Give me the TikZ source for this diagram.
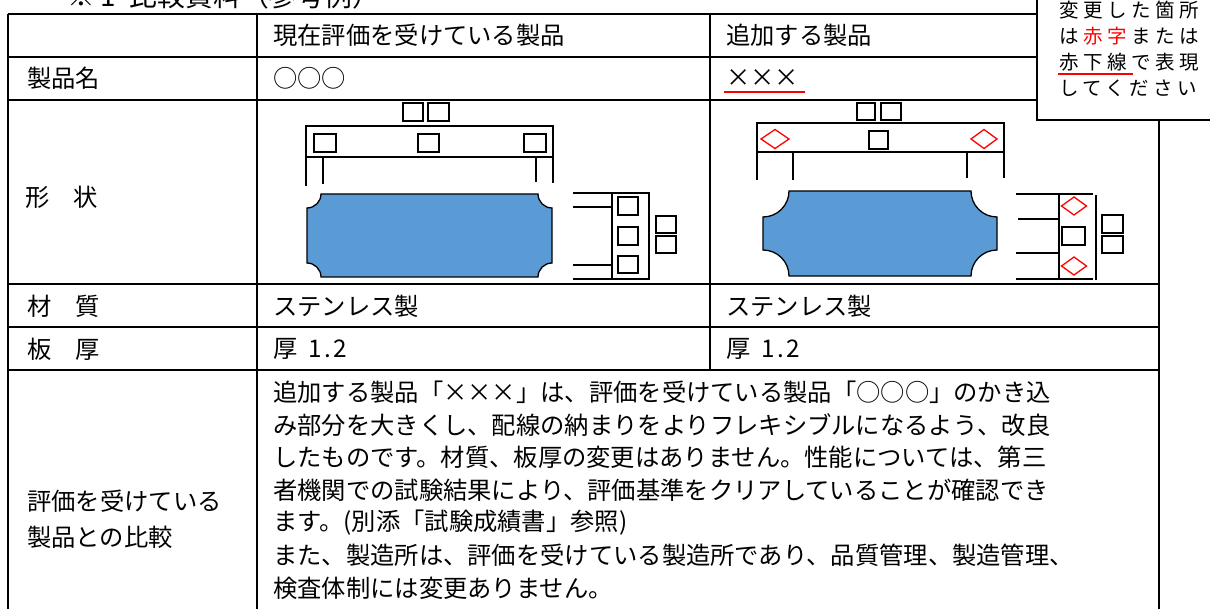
\documentclass[tikz,border=0pt]{standalone}
\usepackage{fontspec}
\setmainfont{Noto Sans CJK JP}
\newfontfamily\notefont[LetterSpace=23]{Noto Sans CJK JP}
\definecolor{plateblue}{HTML}{5B9BD5}
\newcommand\batu{\makebox[1em]{×}}
\newcommand\hw[1]{\makebox[0.5em]{#1}}
\newcommand\platepath[5]{(#1+#5,#2) -- (#3-#5,#2) arc[start angle=180,end angle=90,radius=#5]
  -- (#3,#4-#5) arc[start angle=270,end angle=180,radius=#5]
  -- (#1+#5,#4) arc[start angle=0,end angle=-90,radius=#5]
  -- (#1,#2+#5) arc[start angle=90,end angle=0,radius=#5] -- cycle}
\newcommand\diam[4]{\draw[dmd] (#1-#3/2,#2) -- (#1,#2-#4/2) -- (#1+#3/2,#2) -- (#1,#2+#4/2) -- cycle;}

\begin{document}
\begin{tikzpicture}[
        x = 1pt,
        y = -1pt,
        tbl/.style = {line width=1.8pt},
        shp/.style = {line width=1.3pt},
        dmd/.style = {red, line width=1.3pt},
        txt/.style = {anchor=west, inner sep=0pt, font=\fontsize{24.3}{30}\selectfont},
        note/.style = {anchor=west, inner sep=0pt, font=\notefont\fontsize{19.5}{24}\selectfont}
        ]
        \useasboundingbox (0,0) rectangle (1210,609);
        \clip (0,0) rectangle (1210,609);
        \node[txt, font=\fontsize{27.8}{32}\selectfont] (title) at (67,-4.5) {※\hspace{6pt}\hw{1}\hspace{15pt}比較資料（参考例）};
        \draw[tbl] (8,14) -- (8,630);
        \draw[tbl] (257,14) -- (257,630);
        \draw[tbl] (710,14) -- (710,370);
        \draw[tbl] (1159,14) -- (1159,630);
        \draw[tbl] (8,14) -- (1159,14);
        \draw[tbl] (8,57) -- (1159,57);
        \draw[tbl] (8,100) -- (1159,100);
        \draw[tbl] (8,284) -- (1159,284);
        \draw[tbl] (8,327) -- (1159,327);
        \draw[tbl] (8,370) -- (1159,370);
        \node[txt] (hdcur) at (273,35) {現在評価を受けている製品};
        \node[txt] (hdadd) at (726,35) {追加する製品};
        \node[txt] (nmlbl) at (27,78) {製品名};
        \node[txt] (nmcur) at (273,78) {○○○};
        \node[txt] (nmadd) at (726,78) {\batu\batu\batu};
        \draw[red, line width=2pt] (724,92.5) -- (805,92.5);
        \node[txt] (shlbl) at (25,197) {形　状};
        \node[txt] (mtlbl) at (27,306) {材　質};
        \node[txt] (mtcur) at (273,306) {ステンレス製};
        \node[txt] (mtadd) at (726,306) {ステンレス製};
        \node[txt] (thlbl) at (27,349) {板　厚};
        \node[txt] (thcur) at (273,349) {厚\hw{}\hw{1}\hw{.}\hw{2}};
        \node[txt] (thadd) at (726,349) {厚\hw{}\hw{1}\hw{.}\hw{2}};
        \node[txt] (cmplbl1) at (27,501) {評価を受けている};
        \node[txt] (cmplbl2) at (27,537) {製品との比較};
        \foreach \t [count=\i] in {
            {追加する製品「\batu\batu\batu」は、評価を受けている製品「○○○」のかき込},
            {み部分を大きくし、配線の納まりをよりフレキシブルになるよう、改良},
            {したものです。材質、板厚の変更はありません。性能については、第三},
            {者機関での試験結果により、評価基準をクリアしていることが確認でき},
            {ます。(別添「試験成績書」参照)},
            {また、製造所は、評価を受けている製造所であり、品質管理、製造管理、},
            {検査体制には変更ありません。}}
            \node[txt] (cmp\i) at (273,392+32.7*\i-32.7) {\t};
        \draw[shp] (403,103) rectangle (423,121);
        \draw[shp] (428,103) rectangle (449,121);
        \draw[shp] (306,186) -- (306,126) -- (553,126) -- (553,183);
        \draw[shp] (306,157) -- (553,157);
        \draw[shp] (323,157) -- (323,184);
        \draw[shp] (536,157) -- (536,182);
        \draw[shp] (314,134) rectangle (336,152);
        \draw[shp] (418,134) rectangle (439,152);
        \draw[shp] (524,134) rectangle (546,152);
        \draw[shp, fill=plateblue] \platepath{307}{194}{552}{277}{14};
        \draw[shp] (573,193) -- (649,193) -- (649,279) -- (573,279);
        \draw[shp] (612,193) -- (612,279);
        \draw[shp] (573,207) -- (612,207);
        \draw[shp] (573,265) -- (612,265);
        \draw[shp] (618,197) rectangle (638,215);
        \draw[shp] (618,227) rectangle (638,245);
        \draw[shp] (618,256) rectangle (638,273);
        \draw[shp] (656,216) rectangle (676,233);
        \draw[shp] (656,236) rectangle (676,253);
        \draw[shp] (857,103) rectangle (875,120);
        \draw[shp] (881,103) rectangle (901,120);
        \draw[shp] (757,180) -- (757,123) -- (1004,123) -- (1004,178);
        \draw[shp] (757,152) -- (1004,152);
        \draw[shp] (793,152) -- (793,180);
        \draw[shp] (967,152) -- (967,178);
        \diam{775}{139}{28}{19}
        \diam{984}{139}{26}{19}
        \draw[shp] (869,131) rectangle (888,149);
        \draw[shp, fill=plateblue] \platepath{763}{191}{997}{276}{26};
        \draw[shp] (1016,194) -- (1093,194);
        \draw[shp] (1016,279) -- (1093,279);
        \draw[shp] (1059,194) -- (1059,279);
        \draw[shp] (1096,195) -- (1096,280);
        \draw[shp] (1018,219) -- (1059,219);
        \draw[shp] (1016,253) -- (1059,253);
        \diam{1074}{206}{25}{18}
        \diam{1074}{266}{25}{18}
        \draw[shp] (1062,227) rectangle (1085,245);
        \draw[shp] (1102,215) rectangle (1123,233);
        \draw[shp] (1102,236) rectangle (1123,253);
        \draw[fill=white, line width=1.2pt] (1037,-5) rectangle (1225,120);
        \node[note] (note1) at (1059,10) {変更した箇所};
        \node[note] (note2) at (1059,36) {は\kern4.5pt\textcolor{red}{赤字}\kern4.5pt または};
        \node[note] (note3) at (1059,62) {赤下線で表現};
        \node[note] (note4) at (1059,88) {してください};
        \draw[red, line width=1.8pt] (note3.south west) ++(-1,3) -- ++(75,0);
\end{tikzpicture}
\end{document}
